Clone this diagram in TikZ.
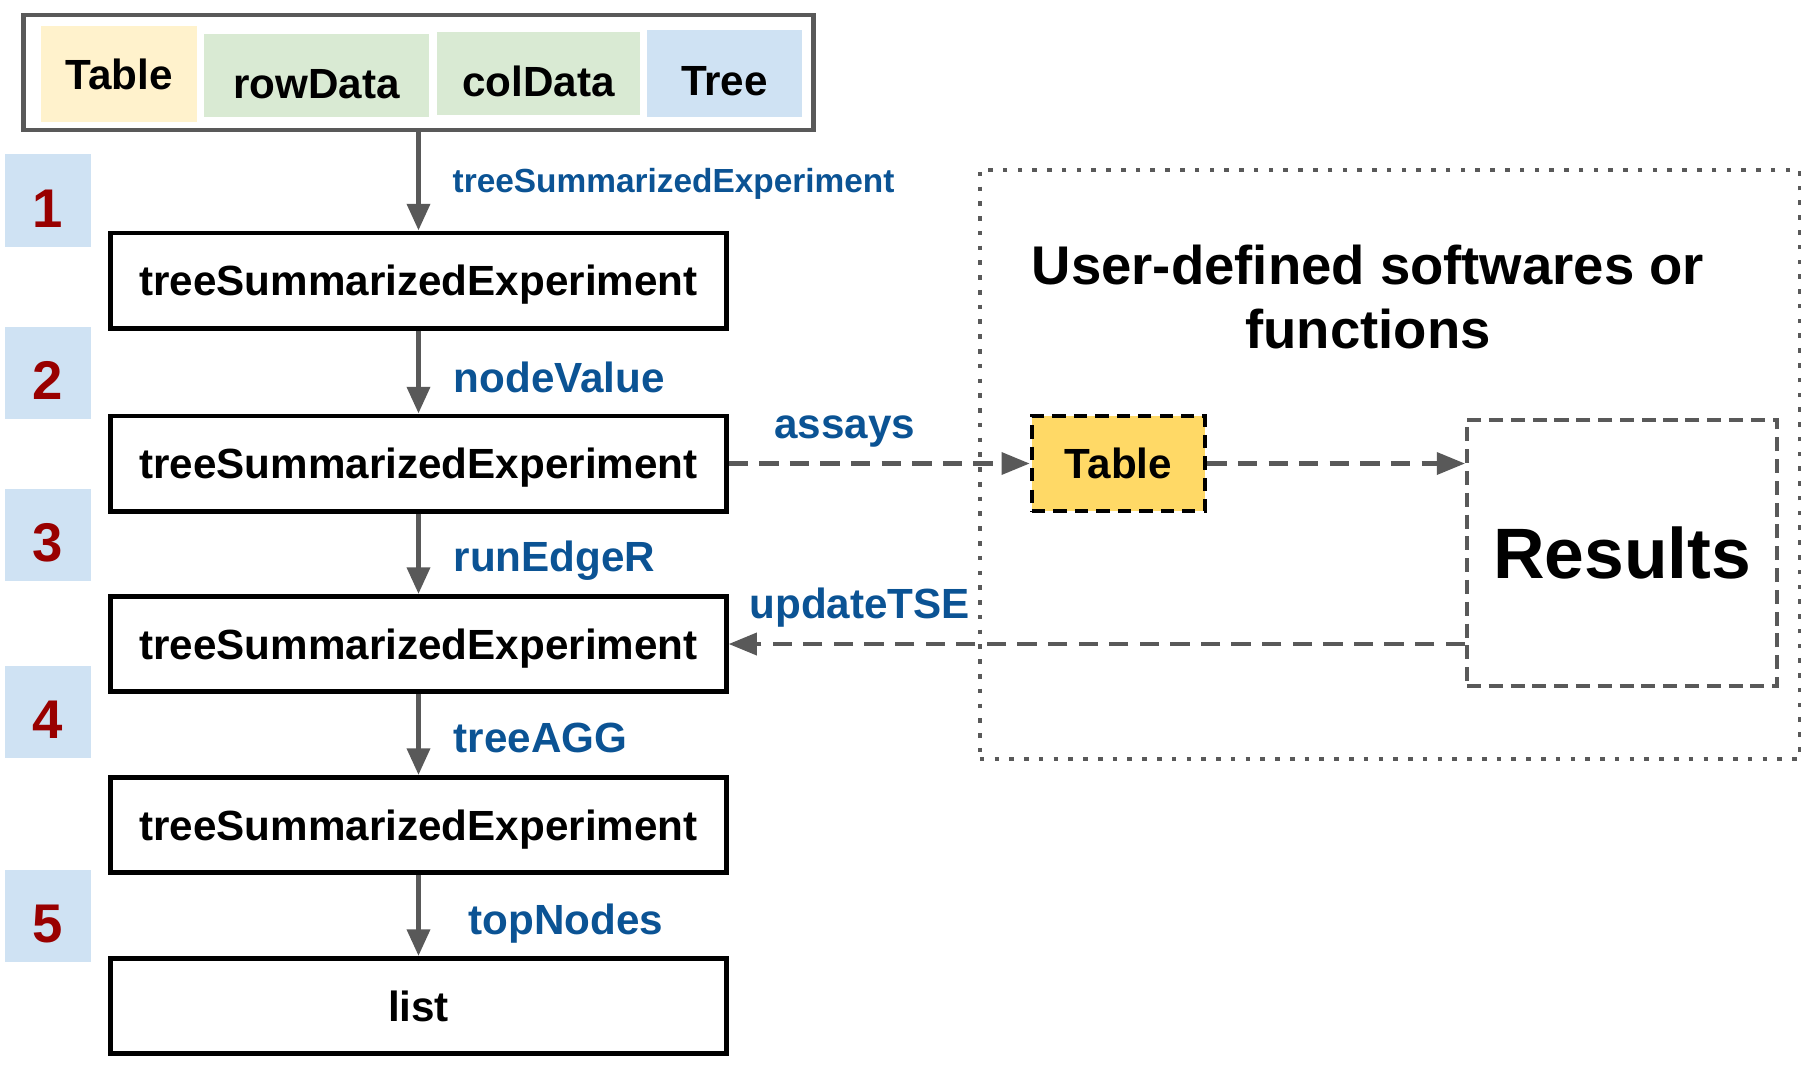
\documentclass[tikz,border=0pt]{standalone}
\usepackage{fontspec}
\setmainfont{Liberation Sans}
\usetikzlibrary{arrows.meta,positioning}
\definecolor{cellyellow}{HTML}{FFF2CC}
\definecolor{cellgreen}{HTML}{D9EAD3}
\definecolor{cellblue}{HTML}{CFE2F3}
\definecolor{tabyellow}{HTML}{FFD966}
\definecolor{numred}{HTML}{990000}
\definecolor{fnblue}{HTML}{0B5394}
\definecolor{arrgray}{HTML}{595959}
\newcommand{\tse}{treeSummarizedExperiment}

\begin{document}
\begin{tikzpicture}[x=0.01cm,y=-0.01cm,
  tsebox/.style={draw,line width=1.4pt,minimum width=6.15cm,minimum height=0.95cm,inner sep=0pt,text height=8.6pt,text depth=0pt,font=\fontsize{12}{14}\bfseries},
  cell/.style={inner sep=0pt,font=\fontsize{12}{14}\bfseries},
  numbox/.style={fill=cellblue,text=numred,minimum width=0.86cm,inner sep=0pt,text height=20.75pt,text depth=5.65pt,font=\fontsize{15.5}{18}\bfseries},
  flow/.style={draw=arrgray,line width=1.5pt,-{Triangle[length=7.6pt,width=6.4pt]}},
  dflow/.style={draw=arrgray,line width=1.2pt,dash pattern=on 5.5pt off 3.2pt,-{Triangle[length=8pt,width=6.2pt]}},
  fn/.style={text=fnblue,inner sep=0pt,font=\fontsize{12}{14}\bfseries}]
\useasboundingbox (0,0) rectangle (1818,1066);
% input object
\node[draw=arrgray,line width=1.3pt,minimum width=7.89cm,minimum height=1.15cm] (input) at (418.5,72.5) {};
\node[cell,fill=cellyellow,minimum width=1.56cm,text height=17.9pt,text depth=9.3pt] (tab0) at (119,74) {Table};
\node[cell,fill=cellgreen,minimum width=2.25cm,text height=18.45pt,text depth=5.15pt] (rowdat) at (316.5,75) {rowData};
\node[cell,fill=cellgreen,minimum width=2.03cm,text height=18.5pt,text depth=5.1pt] (coldat) at (538.5,73.3) {colData};
\node[cell,fill=cellblue,minimum width=1.55cm,text height=18.5pt,text depth=6.1pt] (tree) at (724.5,73.3) {Tree};
% steps
\node[numbox] (n1) at (48,200.5) {1};
\node[numbox] (n2) at (48,373) {2};
\node[numbox] (n3) at (48,535) {3};
\node[numbox] (n4) at (48,712) {4};
\node[numbox] (n5) at (48,916) {5};
\node[tsebox] (b1) at (418.5,280.5) {\tse};
\node[tsebox] (b2) at (418.5,463.5) {\tse};
\node[tsebox] (b3) at (418.5,644) {\tse};
\node[tsebox] (b4) at (418.5,825) {\tse};
\node[tsebox] (b5) at (418.5,1006) {list};
\draw[flow] (input) -- node[fn,right=0.315cm,yshift=-0.02cm,font=\fontsize{9.5}{11}\bfseries] {\tse} (b1);
\draw[flow] (b1) -- node[fn,right=0.325cm,yshift=-0.05cm] {nodeValue} (b2);
\draw[flow] (b2) -- node[fn,right=0.325cm,yshift=-0.07cm] {runEdgeR} (b3);
\draw[flow] (b3) -- node[fn,right=0.325cm,yshift=-0.03cm] {treeAGG} (b4);
\draw[flow] (b4) -- node[fn,right=0.475cm,yshift=-0.08cm] {topNodes} (b5);
% user side
\node[draw=arrgray,line width=1pt,dash pattern=on 1.3pt off 2.9pt,minimum width=8.19cm,minimum height=5.89cm] (user) at (1389.5,464.5) {};
\node[align=center,font=\fontsize{15.5}{18.4}\bfseries] (title) at (1368,297) {User-defined softwares or\\functions};
\node[draw,fill=tabyellow,line width=1.3pt,dash pattern=on 3.8pt off 2.3pt,minimum width=1.73cm,minimum height=0.95cm,inner sep=0pt,font=\fontsize{12}{14}\bfseries] (tab1) at (1118.5,463.5) {Table};
\node[draw=arrgray,line width=1.1pt,dash pattern=on 4pt off 2.2pt,minimum width=3.10cm,minimum height=2.66cm,font=\fontsize{20.3}{24}\bfseries] (res) at (1622,553) {Results};
\draw[dflow] (b2) -- node[fn,pos=0.386,above=0.14cm] {assays} (tab1);
\draw[dflow] (tab1) -- (tab1 -| res.west);
\draw[dflow] (b3 -| res.west) -- node[fn,pos=0.822,above=0.15cm] {updateTSE} (b3);
\end{tikzpicture}
\end{document}
